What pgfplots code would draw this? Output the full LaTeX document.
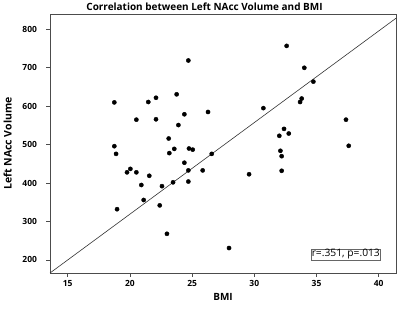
\documentclass[border=0pt]{standalone}
\usepackage{fontspec}
\setmainfont{Open Sans}
\usepackage{pgfplots}
\pgfplotsset{compat=1.18}
\begin{document}
\begin{tikzpicture}
\begin{axis}[
  at={(0,0)}, anchor=south west,
  scale only axis, width=346bp, height=259bp,
  xmin=13.58, xmax=41.39, ymin=166, ymax=840,
  xtick={15,20,...,40}, ytick={200,300,...,800},
  tick align=outside, major tick length=3.5bp,
  xtick pos=bottom, ytick pos=left,
  axis line style={draw=black!70, line width=0.8bp},
  tick style={draw=black!70, line width=0.7bp},
  ticklabel style={font=\fontsize{8.5}{10}\selectfont\bfseries},
  yticklabel style={xshift=-6bp},
  xticklabel style={yshift=-0.5bp},
  /pgf/number format/assume math mode=true,
  clip=false,
]
\addplot[black!80, line width=0.6bp] coordinates {(13.58,166) (41.39,829)};
\addplot[only marks, mark=*, mark size=2.1bp, black] coordinates {
(18.75,610) (18.75,496) (18.89,476) (19.77,428) (20.04,437) (18.97,332)
(20.52,565) (20.52,428) (20.92,395) (21.11,356) (21.48,611) (21.56,419)
(22.10,622) (22.10,566) (22.40,342) (22.58,392) (22.98,268) (23.12,516)
(23.17,478) (23.47,402) (23.57,489) (23.76,631) (23.90,551) (24.38,579)
(24.38,453) (24.70,719) (24.70,433) (24.70,404) (24.75,490) (25.05,487)
(25.85,433) (26.28,585) (26.58,476) (27.97,231) (29.58,423) (30.73,595)
(32.01,523) (32.10,484) (32.20,470) (32.20,432) (32.39,541) (32.60,757)
(32.77,529) (33.68,611) (33.81,620) (34.02,700) (34.75,664) (37.37,565)
(37.59,497)
};
\node[font=\fontsize{10}{11}\selectfont\bfseries] at (rel axis cs:0.4465,1) [yshift=7.3bp] {Correlation between Left NAcc Volume and BMI};
\node[font=\fontsize{10}{11}\selectfont\bfseries] at (rel axis cs:0.5,0) [yshift=-23.7bp] {BMI};
\node[xshift=-42.3bp, rotate=90, font=\fontsize{10.5}{12}\selectfont\bfseries] at (rel axis cs:0,0.5) {Left NAcc Volume};
\node[font=\fontsize{10.3}{11}\selectfont, draw=black!60, line width=0.5bp, inner sep=0.6bp, fill=white] at (rel axis cs:0.855,0.072) {r=.351, p=.013};
\end{axis}
\pgfresetboundingbox
\path (-50bp,-38bp) rectangle (348bp,273bp);
\end{tikzpicture}
\end{document}
